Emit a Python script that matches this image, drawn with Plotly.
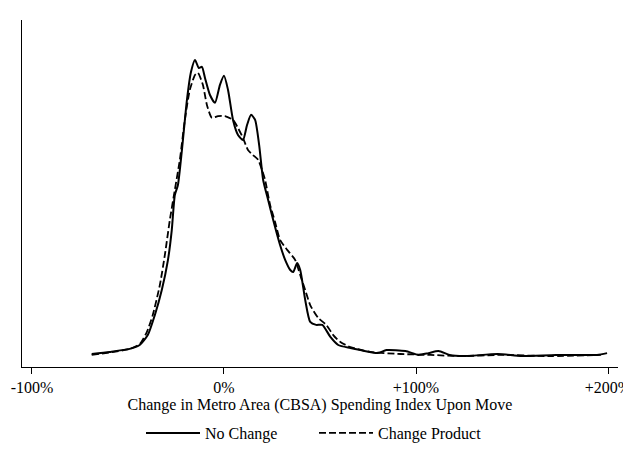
import plotly.graph_objects as go

# Change in spending index (%), kernel density (arbitrary units)
no_change_x = [-68.9, -59.5, -49.1, -43.9, -39.7, -36.0, -32.4, -29.2, -27.2, -25.6, -24.0, -21.9,
               -19.3, -17.2, -15.1, -13.1, -11.5, -9.9, -7.3, -4.7, -2.1, 0.0, 2.1, 4.7, 7.3, 9.9,
               12.0, 14.1, 16.2, 18.3, 20.4, 23.0, 25.6, 29.2, 31.9, 34.5, 36.0, 38.1, 39.7, 42.3,
               44.9, 48.0, 51.2, 55.4, 59.5, 65.8, 71.0, 79.9, 84.6, 94.5, 101.3, 106.5, 111.7,
               117.5, 124.8, 142.6, 155.1, 172.8, 194.3, 199.5]
no_change_y = [1.0, 1.7, 2.7, 4.0, 7.3, 14.0, 22.3, 32.3, 42.3, 54.0, 57.3, 69.0,
               85.7, 95.0, 99.0, 96.3, 96.7, 93.0, 87.3, 84.7, 90.7, 93.7, 89.0, 79.0, 74.0, 72.3,
               77.3, 80.7, 79.0, 70.7, 59.0, 52.3, 45.7, 37.3, 32.3, 29.0, 28.3, 31.3, 29.0, 19.0,
               11.7, 10.7, 10.7, 6.7, 4.0, 3.0, 2.3, 1.3, 2.3, 2.0, 0.7, 1.3, 2.0,
               0.7, 0.3, 1.0, 0.3, 0.7, 0.7, 1.3]

change_product_x = [-68.9, -49.1, -43.9, -40.2, -37.1, -33.4, -30.8, -28.2, -25.6, -23.0, -20.4,
                    -17.8, -15.1, -13.6, -11.0, -8.9, -6.3, -3.1, 0.5, 4.7, 7.3, 9.9, 12.5, 15.1,
                    17.8, 19.8, 21.4, 24.0, 26.6, 29.2, 32.9, 37.1, 39.7, 42.3, 44.9, 49.1, 53.3,
                    56.9, 60.6, 65.8, 76.2, 91.9, 107.6, 123.2, 144.1, 170.2, 196.3]
change_product_y = [0.7, 2.7, 4.3, 8.3, 14.0, 24.0, 34.0, 45.7, 55.7, 65.7, 79.0,
                    89.0, 94.0, 94.7, 90.7, 84.0, 79.7, 80.3, 80.3, 79.0, 76.3, 73.0, 69.0, 67.3,
                    65.7, 62.3, 59.0, 50.7, 45.0, 39.0, 35.7, 32.3, 27.3, 22.3, 17.3, 13.0, 10.7,
                    7.3, 5.0, 3.3, 1.7, 1.0, 0.7, 0.3, 0.7, 0.3, 0.7]

tick_vals = [-100, 0, 100, 200]
tick_text = ["-100%", "0%", "+100%", "+200%"]

font_family = "Liberation Serif, Times New Roman, serif"

W, H = 623, 456

fig = go.Figure()
fig.add_trace(go.Scatter(x=change_product_x, y=change_product_y, mode="lines",
                         name="Change Product",
                         line=dict(color="black", width=1.8, dash="7px,3px", shape="spline", smoothing=0.6)))
fig.add_trace(go.Scatter(x=no_change_x, y=no_change_y, mode="lines",
                         name="No Change",
                         line=dict(color="black", width=2, shape="spline", smoothing=0.6)))

fig.update_layout(
    width=W, height=H,
    margin=dict(l=14, r=13, t=12, b=97, autoexpand=False),
    paper_bgcolor="white", plot_bgcolor="white",
    font=dict(family=font_family, size=16, color="black"),
    showlegend=True,
    legend=dict(orientation="h", x=133 / W, xanchor="left", xref="container",
                y=1 - 425 / H, yanchor="middle", yref="container",
                traceorder="reversed", font=dict(size=16), itemwidth=54,
                entrywidth=104, entrywidthmode="pixels"),
    xaxis=dict(range=[-105.2, 205.2], tickvals=tick_vals, ticktext=tick_text,
               automargin=False, ticklabeloverflow="allow",
               showline=True, linecolor="black", linewidth=1,
               ticks="outside", ticklen=6, tickcolor="black",
               showgrid=False, zeroline=False,
               title=dict(text="Change in Metro Area (CBSA) Spending Index Upon Move",
                          standoff=0, font=dict(size=16))),
    yaxis=dict(range=[-3.33, 112.3], showticklabels=False, ticks="", automargin=False,
               showline=True, linecolor="black", linewidth=1,
               showgrid=False, zeroline=False),
)

fig.write_html("out.html")
